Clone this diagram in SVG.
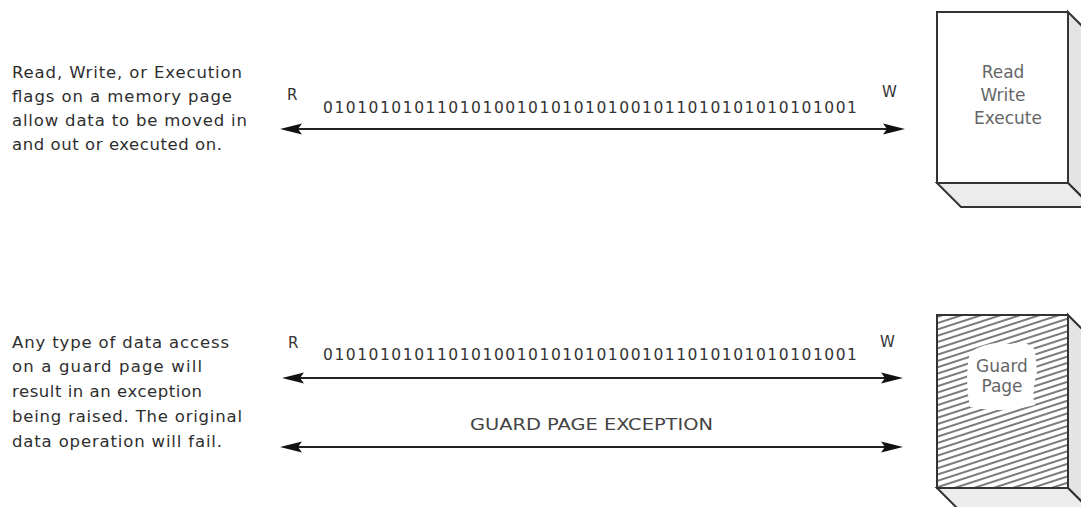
<svg xmlns="http://www.w3.org/2000/svg" width="1081" height="507" viewBox="0 0 1081 507">
  <style>
    .desc { font-family: "DejaVu Sans", "Liberation Sans", sans-serif; font-size: 16.5px; fill: #2e2e2e; }
    .lbl { font-family: "DejaVu Sans", "Liberation Sans", sans-serif; font-size: 15px; fill: #333; }
    .bits { font-family: "DejaVu Sans", "Liberation Sans", sans-serif; font-size: 15.5px; fill: #333; }
    .box { font-family: "DejaVu Sans", "Liberation Sans", sans-serif; font-size: 17px; fill: #666; text-anchor: middle; }
    .exc { font-family: "DejaVu Sans", "Liberation Sans", sans-serif; font-size: 15px; fill: #444; }
    .front { fill: #ffffff; stroke: #333; stroke-width: 2; stroke-linejoin: miter; }
    .side { fill: #e4e4e4; stroke: #333; stroke-width: 2; stroke-linejoin: miter; }
    .bottom { fill: #ececec; stroke: #333; stroke-width: 2; stroke-linejoin: miter; }
    .arrow { stroke: #222; stroke-width: 2; fill: none; marker-start: url(#ah); marker-end: url(#ah); }
  </style>
  <defs>
    <marker id="ah" viewBox="0 0 22 12" refX="12" refY="6" markerWidth="22" markerHeight="12" markerUnits="userSpaceOnUse" orient="auto-start-reverse">
      <path d="M0,0.5 L22,6 L0,11.5 L4,6 Z" fill="#111"/>
    </marker>
    <pattern id="hatch" width="12" height="6" patternUnits="userSpaceOnUse" patternTransform="rotate(-18)">
      <line x1="0" y1="3" x2="12" y2="3" stroke="#333" stroke-width="1.3"/>
    </pattern>
  </defs>

  <g id="desc-top">
    <text class="desc" x="12" y="78" textLength="230">Read, Write, or Execution</text>
    <text class="desc" x="12" y="102" textLength="220">flags on a memory page</text>
    <text class="desc" x="12" y="126" textLength="235">allow data to be moved in</text>
    <text class="desc" x="12" y="150" textLength="210">and out or executed on.</text>
  </g>

  <g id="desc-bottom">
    <text class="desc" x="12" y="348" textLength="217">Any type of data access</text>
    <text class="desc" x="12" y="372" textLength="190">on a guard page will</text>
    <text class="desc" x="12" y="397" textLength="190">result in an exception</text>
    <text class="desc" x="12" y="422" textLength="230">being raised. The original</text>
    <text class="desc" x="12" y="447" textLength="210">data operation will fail.</text>
  </g>

  <g id="page-rwx">
    <polygon class="side" points="1068,12 1092,36 1092,207 1068,183"/>
    <polygon class="bottom" points="937,183 1068,183 1092,207 961,207"/>
    <rect class="front" x="937" y="12" width="131" height="171"/>
    <text class="box" x="1003" y="78">Read</text>
    <text class="box" x="1003" y="101">Write</text>
    <text class="box" x="1008" y="124">Execute</text>
  </g>

  <g id="page-guard">
    <polygon class="side" points="1068,315 1092,339 1092,512 1068,488"/>
    <polygon class="bottom" points="937,488 1068,488 1092,512 961,512"/>
    <rect x="937" y="315" width="131" height="173" fill="#ffffff"/>
    <rect x="937" y="315" width="131" height="173" fill="url(#hatch)"/>
    <path d="M970,352 Q990,340 1010,344 Q1028,340 1035,350 L1037,372 Q1031,395 1035,405 Q1000,414 970,407 Q964,378 970,352 Z" fill="#ffffff"/>
    <rect x="937" y="315" width="131" height="173" fill="none" stroke="#333" stroke-width="2"/>
    <text class="box" x="1002" y="372">Guard</text>
    <text class="box" x="1002" y="392">Page</text>
  </g>

  <g id="connectors">
    <g id="flow-top">
      <path class="arrow" d="M290,129 H895"/>
      <text class="lbl" x="287" y="100">R</text>
      <text class="lbl" x="882" y="97">W</text>
      <text class="bits" x="323" y="113" textLength="534" lengthAdjust="spacing">01010101011010100101010101001011010101010101001</text>
    </g>
    <g id="flow-guard">
      <path class="arrow" d="M292,378 H893"/>
      <text class="lbl" x="288" y="348">R</text>
      <text class="lbl" x="880" y="347">W</text>
      <text class="bits" x="323" y="360" textLength="534" lengthAdjust="spacing">01010101011010100101010101001011010101010101001</text>
    </g>
    <g id="flow-exception">
      <path class="arrow" d="M290,447 H893"/>
      <text class="exc" x="470" y="430" textLength="243" lengthAdjust="spacingAndGlyphs">GUARD PAGE EXCEPTION</text>
    </g>
  </g>
</svg>
